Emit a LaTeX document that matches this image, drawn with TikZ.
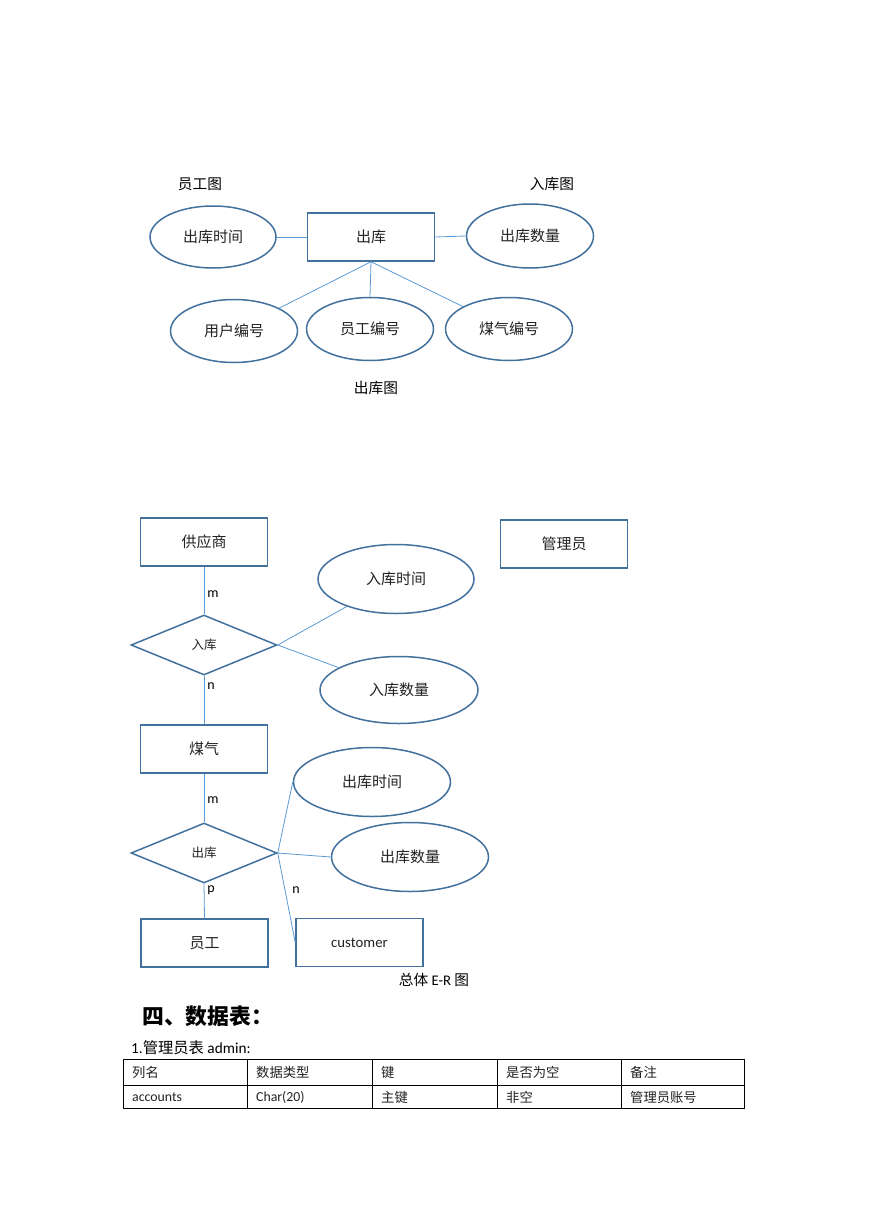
\documentclass[tikz,border=0pt]{standalone}
\usepackage{fontspec}
\setmainfont{Carlito}
\newfontfamily\cjk{Noto Sans CJK SC}
\usetikzlibrary{shapes.geometric}
\definecolor{shapeblue}{HTML}{41719C}
\definecolor{lineblue}{HTML}{5B9BD5}
\definecolor{txt}{HTML}{222222}
\newcommand\zh[1]{{\cjk #1}}
\begin{document}
\begin{tikzpicture}[x=1pt,y=-1pt,
  ent/.style={draw=shapeblue, line width=1.5pt, rectangle, minimum width=127pt, minimum height=48pt, inner sep=0pt, text=txt, font=\fontsize{15}{17}\selectfont},
  attr/.style={draw=shapeblue, line width=1.5pt, ellipse, inner sep=0pt, text=txt, font=\fontsize{15}{17}\selectfont},
  rel/.style={draw=shapeblue, line width=1.5pt, diamond, minimum width=146pt, minimum height=60pt, inner sep=0pt, text=txt, font=\fontsize{12.5}{14}\selectfont},
  conn/.style={draw=lineblue, line width=0.8pt},
  lbl/.style={inner sep=0pt, text=black, font=\fontsize{14.7}{17}\selectfont},
  card/.style={inner sep=0pt, text=black, font=\fontsize{14}{16}\selectfont},
  cell/.style={inner sep=0pt, anchor=west, text=txt, font=\fontsize{13.3}{15}\selectfont},
  grid/.style={draw=black, line width=0.8pt}]
\useasboundingbox (0,0) rectangle (869,1228);
\fill[white] (0,0) rectangle (869,1228);

% ---------- top: 出库图 ----------
\node[lbl] (capYG) at (200,184) {\zh{员工图}};
\node[lbl] (capRK) at (552,184) {\zh{入库图}};
\node[ent] (ck) at (371,237) {\zh{出库}};
\node[attr, minimum width=126pt, minimum height=62pt] (tsj) at (213,237) {\zh{出库时间}};
\node[attr, minimum width=127pt, minimum height=64pt] (tsl) at (530,236) {\zh{出库数量}};
\node[attr, minimum width=127pt, minimum height=63pt] (tyh) at (234,331) {\zh{用户编号}};
\node[attr, minimum width=127pt, minimum height=63pt] (tyg) at (370,329) {\zh{员工编号}};
\node[attr, minimum width=127pt, minimum height=63pt] (tmq) at (509,329) {\zh{煤气编号}};
\node[lbl] (capCK) at (376,388) {\zh{出库图}};

\draw[conn] (tsj.east) -- (ck.west);
\draw[conn] (ck.east) -- (tsl.west);
\draw[conn] (ck.south) -- (tyh);
\draw[conn] (ck.south) -- (tyg.north);
\draw[conn] (ck.south) -- (tmq);

% ---------- middle: 入库 ----------
\node[ent] (gys) at (204,542) {\zh{供应商}};
\node[ent] (gly) at (564,544) {\zh{管理员}};
\node[rel] (rk) at (204,645) {\zh{入库}};
\node[attr, minimum width=156pt, minimum height=69pt] (rksj) at (396,579) {\zh{入库时间}};
\node[attr, minimum width=158pt, minimum height=67pt] (rksl) at (399,690) {\zh{入库数量}};
\node[ent] (mq) at (204,749) {\zh{煤气}};

\draw[conn] (gys.south) -- (rk.north);
\draw[conn] (rk.south) -- (mq.north);
\draw[conn] (rk.east) -- (rksj);
\draw[conn] (rk.east) -- (rksl);
\node[card] (m1) at (213,594) {m};
\node[card] (n1) at (211,686) {n};

% ---------- bottom: 出库 ----------
\node[rel] (ck2) at (204,853) {\zh{出库}};
\node[attr, minimum width=157pt, minimum height=69pt] (cksj) at (372,782) {\zh{出库时间}};
\node[attr, minimum width=157pt, minimum height=69pt] (cksl) at (410,857) {\zh{出库数量}};
\node[ent] (yg) at (204.5,943) {\zh{员工}};
\node[ent, font=\fontsize{14.8}{17}\selectfont] (cust) at (359.5,942.5) {customer};
\node[lbl] (capER) at (434,980) {\zh{总体} E-R \zh{图}};

\draw[conn] (mq.south) -- (ck2.north);
\draw[conn] (ck2.south) -- (yg.north);
\draw[conn] (ck2.east) -- (cksj.west);
\draw[conn] (ck2.east) -- (cksl.west);
\draw[conn] (ck2.east) -- (cust.west);
\node[card] (m2) at (213,800) {m};
\node[card] (p2) at (211,890) {p};
\node[card] (n2) at (296,890) {n};

% ---------- table ----------
\node[inner sep=0pt, anchor=west, font=\fontsize{21.8}{24}\selectfont] (title) at (142,1016) {\zh{\bfseries 四、数据表：}};
\node[inner sep=0pt, anchor=west, font=\fontsize{15.3}{17}\selectfont] (sub) at (131,1048) {1.\zh{管理员表} admin:};

\coordinate (tl) at (123,1059);
\coordinate (br) at (744,1108);
\draw[grid] (tl) rectangle (br);
\draw[grid] (123,1085) -- (744,1085);
\foreach \c in {247,372,497,621} \draw[grid] (\c,1059) -- (\c,1108);

\node[cell] (h1) at (132,1072) {\zh{列名}};
\node[cell] (h2) at (256,1072) {\zh{数据类型}};
\node[cell] (h3) at (381,1072) {\zh{键}};
\node[cell] (h4) at (506,1072) {\zh{是否为空}};
\node[cell] (h5) at (630,1072) {\zh{备注}};
\node[cell, font=\fontsize{13.8}{15}\selectfont] (r1) at (132,1097) {accounts};
\node[cell, font=\fontsize{13.8}{15}\selectfont] (r2) at (256,1097) {Char(20)};
\node[cell] (r3) at (381,1097) {\zh{主键}};
\node[cell] (r4) at (506,1097) {\zh{非空}};
\node[cell] (r5) at (630,1097) {\zh{管理员账号}};
\end{tikzpicture}
\end{document}
